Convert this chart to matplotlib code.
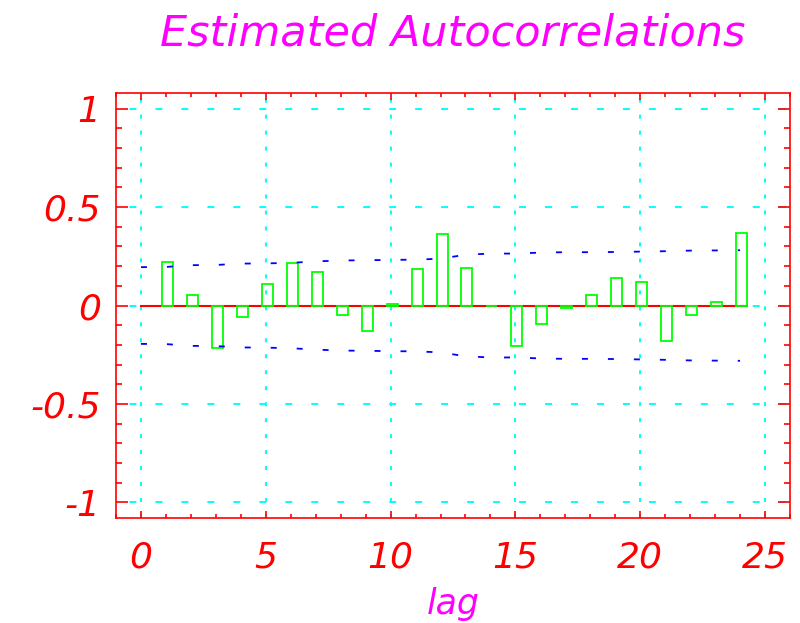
import matplotlib
matplotlib.use("Agg")
import matplotlib.pyplot as plt
from matplotlib.ticker import MultipleLocator

# estimated autocorrelations, lags 1..24
lags = list(range(1, 25))
acf = [0.220, 0.052, -0.217, -0.057, 0.110, 0.218, 0.169, -0.046, -0.127, 0.008, 0.186, 0.364,
       0.191, -0.004, -0.208, -0.093, -0.012, 0.052, 0.140, 0.120, -0.181, -0.047, 0.020, 0.369]

# confidence band (upper half, lower is the mirror), lags 0..24
band_lags = list(range(0, 25))
band = [0.195, 0.196, 0.205, 0.206, 0.213, 0.214, 0.217, 0.224, 0.229, 0.230, 0.232, 0.233, 0.238,
        0.258, 0.264, 0.264, 0.269, 0.271, 0.271, 0.272, 0.274, 0.276, 0.279, 0.280, 0.281]

x_ticks = [0, 5, 10, 15, 20, 25]
x_labels = ["0", "5", "10", "15", "20", "25"]
y_ticks = [-1, -0.5, 0, 0.5, 1]
y_labels = ["-1", "-0.5", "0", "0.5", "1"]

RED = "#ff0000"
CYAN = "#00ffff"
GREEN = "#00ff00"
BLUE = "#0000ff"
MAGENTA = "#ff00ff"

plt.rcParams["lines.scale_dashes"] = False
plt.rcParams["font.family"] = ["DejaVu Sans"]
plt.rcParams["font.style"] = "italic"

fig = plt.figure(figsize=(8, 6.23), dpi=100)
ax = fig.add_axes([0.145, 0.1685, 0.8425, 0.6822])

ax.set_xlim(-1, 26)
ax.set_ylim(-1.08, 1.08)

# grid
ax.set_axisbelow(True)
ax.set_xticks(x_ticks, labels=x_labels)
ax.set_yticks(y_ticks, labels=y_labels)
ax.xaxis.grid(True, color=CYAN, linewidth=1.4, linestyle=(0, (2.9, 8.6)))
ax.yaxis.grid(True, color=CYAN, linewidth=1.4, linestyle=(9, (5.0, 13.7)))

# zero line, bars, band
ax.plot([band_lags[0], lags[-1] + 0.27], [0, 0], color=RED, linewidth=1.5, zorder=2)
ax.bar([l - 0.16 for l in lags], acf, width=0.44, align="edge",
       facecolor="none", edgecolor=GREEN, linewidth=1.3, zorder=3)
ax.plot(band_lags, band, color=BLUE, linewidth=1.3, linestyle=(0, (4.3, 14.4)), zorder=3)
ax.plot(band_lags, [-b for b in band], color=BLUE, linewidth=1.3, linestyle=(0, (4.3, 14.4)), zorder=3)

# frame and ticks
for spine in ax.spines.values():
    spine.set_color(RED)
    spine.set_linewidth(1.2)
ax.xaxis.set_minor_locator(MultipleLocator(1))
ax.yaxis.set_minor_locator(MultipleLocator(0.1))
ax.tick_params(which="both", direction="in", top=True, right=True, color=RED, width=1.2,
               labelcolor=RED, labelsize=26)
ax.tick_params(axis="x", which="major", length=5.0, pad=16)
ax.tick_params(axis="x", which="minor", length=2.8)
ax.tick_params(axis="y", which="major", length=8.6, pad=11)
ax.tick_params(axis="y", which="minor", length=4.3)

ax.set_title("Estimated Autocorrelations", color=MAGENTA, fontsize=31, pad=34.5)
ax.set_xlabel("lag", color=MAGENTA, fontsize=25, va="baseline")
ax.xaxis.set_label_coords(0.5, -96 / 425)

fig.savefig("out.png", dpi=100)
